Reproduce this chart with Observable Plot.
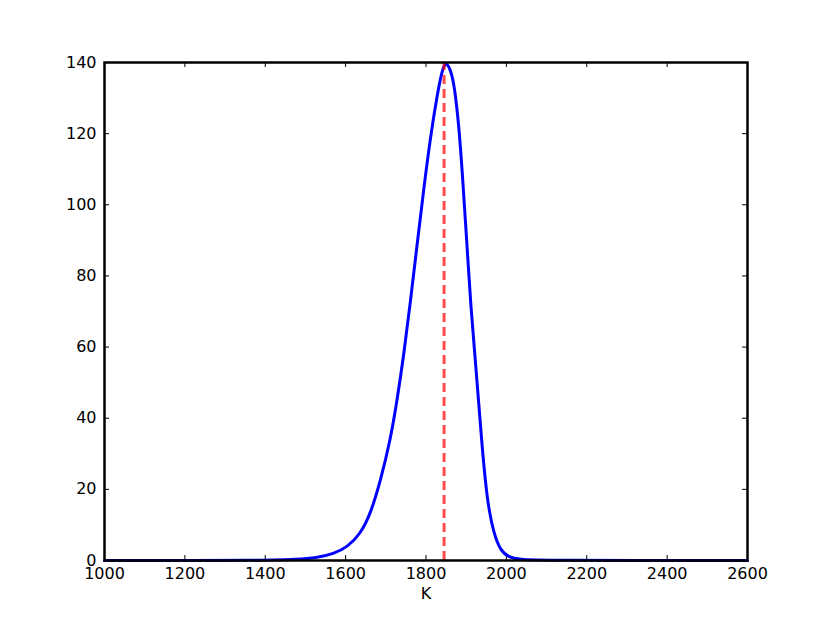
<!DOCTYPE html>
<html>
<head>
<meta charset="utf-8">
<script src="https://cdn.jsdelivr.net/npm/d3@7"></script>
<script src="https://cdn.jsdelivr.net/npm/@observablehq/plot@0.6"></script>
<style>
  html, body { margin: 0; padding: 0; background: #fff; }
  #chart svg { display: block; }
</style>
</head>
<body>
<div id="chart"></div>
<script>
// Data
const kValues = [1000, 1420, 1471, 1529, 1570, 1604, 1637, 1662, 1687, 1711, 1728, 1745, 1761, 1778, 1795, 1811, 1828, 1840, 1850, 1865, 1873, 1882, 1890, 1898, 1906, 1912, 1920, 1931, 1940, 1948, 1956, 1969, 1985, 2006, 2035, 2077, 2600];
const density = [0, 0, 0.3, 0.75, 1.9, 3.7, 7.5, 13.1, 22.5, 33.7, 45, 58, 72.5, 89, 105, 119, 131, 137.8, 140.6, 136.8, 131.2, 121.8, 109.6, 95.6, 81.5, 71, 60, 44.5, 31.5, 22, 14.5, 7.5, 2.8, 0.9, 0.3, 0, 0];
const markerK = [1845];
const xTicks = [1000, 1200, 1400, 1600, 1800, 2000, 2200, 2400, 2600];
const yTicks = [0, 20, 40, 60, 80, 100, 120, 140];
const xLabel = ["K"];

const curve = kValues.map((k, i) => ({k, v: density[i]}));

const W = 830, H = 623;
const mL = 104, mR = 83, mT = 62, mB = 63;
const fw = W - mL - mR, fh = H - mT - mB;
const tick = 5;

const chart = Plot.plot({
  width: W,
  height: H,
  marginLeft: mL,
  marginRight: mR,
  marginTop: mT,
  marginBottom: mB,
  style: {fontFamily: "'DejaVu Sans', sans-serif", fontSize: "16px", color: "#000", background: "#fff"},
  x: {domain: [1000, 2600], label: null},
  y: {domain: [0, 140], label: null},
  marks: [
    Plot.axisX(xTicks, {anchor: "bottom", tickSize: 0, tickPadding: 7, tickFormat: d => String(d), label: null, fontSize: 16}),
    Plot.axisY(yTicks, {anchor: "left", tickSize: 0, tickPadding: 8, tickFormat: d => String(d), label: null, fontSize: 16}),
    // inward ticks on all four sides
    Plot.tickX(xTicks, {x: d => d, insetTop: fh - tick, stroke: "#000", strokeWidth: 1}),
    Plot.tickX(xTicks, {x: d => d, insetBottom: fh - tick, stroke: "#000", strokeWidth: 1}),
    Plot.tickY(yTicks, {y: d => d, insetRight: fw - tick, stroke: "#000", strokeWidth: 1}),
    Plot.tickY(yTicks, {y: d => d, insetLeft: fw - tick, stroke: "#000", strokeWidth: 1}),
    Plot.line(curve, {x: "k", y: "v", stroke: "#0000ff", strokeWidth: 3, curve: "basis"}),
    Plot.ruleX(markerK, {x: d => d, y1: 0, y2: 140, stroke: "#ff0000", strokeOpacity: 0.7, strokeWidth: 3, strokeDasharray: "9,5"}),
    Plot.frame({stroke: "#000", strokeWidth: 2.5}),
    Plot.text(xLabel, {text: d => d, frameAnchor: "bottom", dy: 38, fontSize: 16, fill: "#000"})
  ]
});

document.getElementById("chart").appendChild(chart);
</script>
</body>
</html>
